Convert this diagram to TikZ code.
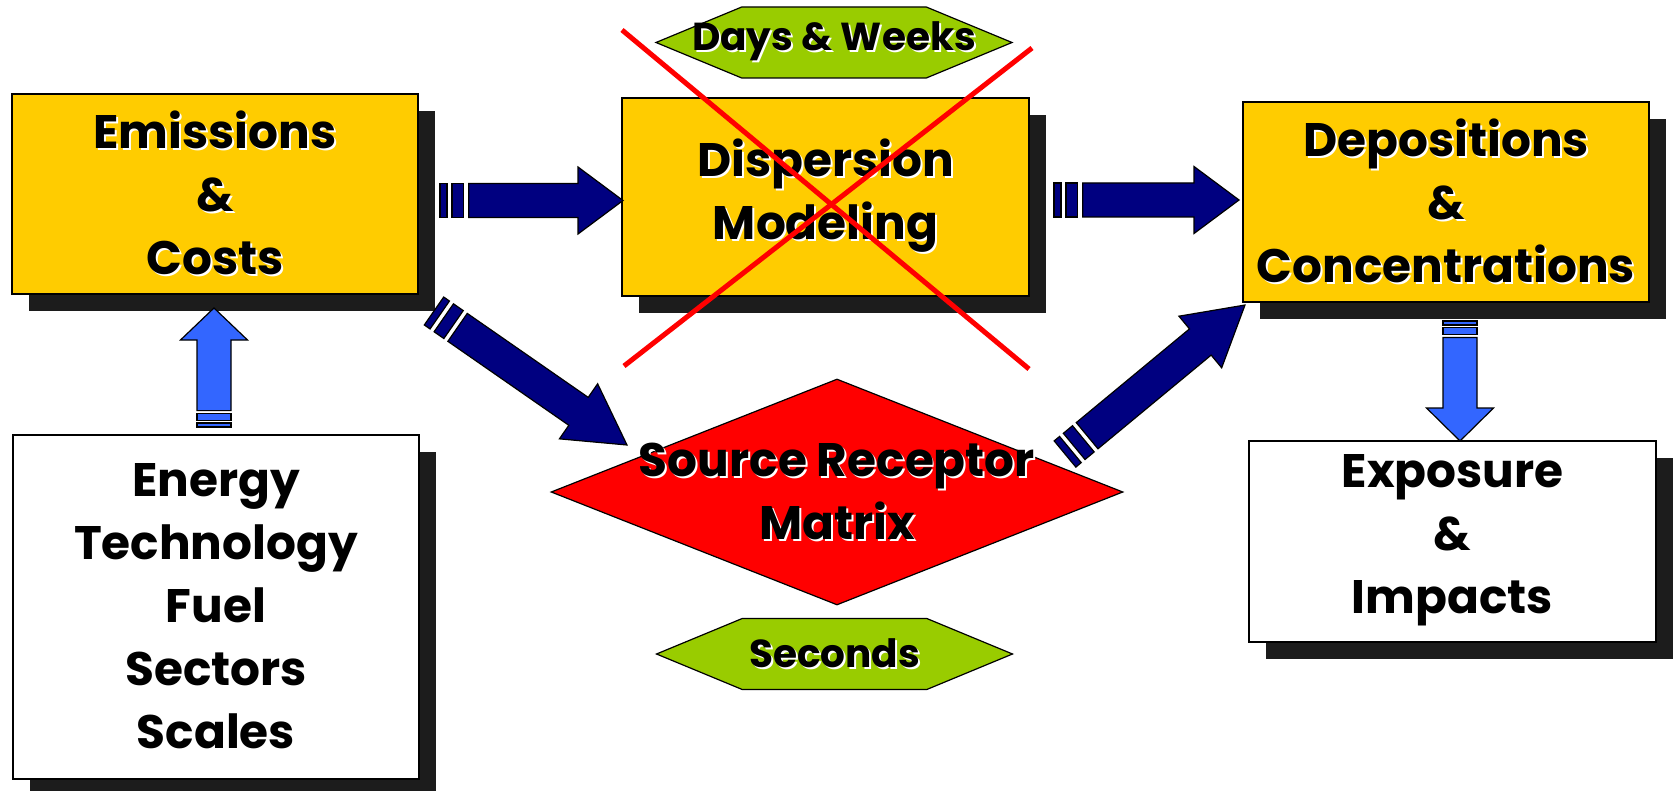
\documentclass[tikz,border=0pt]{standalone}
\usepackage{fontspec}
\setmainfont{Poppins}
\usetikzlibrary{calc,shadows,shapes.geometric,shapes.symbols}

\definecolor{boxyellow}{HTML}{FFCC00}
\definecolor{hexgreen}{HTML}{99CC00}
\definecolor{flownavy}{HTML}{000080}
\definecolor{flowblue}{HTML}{3366FF}
\definecolor{shadegray}{HTML}{1C1C1C}

\newcommand\bigfont{\fontsize{47}{63}\selectfont\bfseries}
\newcommand\hexfont{\fontsize{39}{46}\selectfont\bfseries}
% black text with a thin white shade
\newcommand\shtxt[1]{\makebox[0pt][l]{\kern2pt\raisebox{-2pt}{\color{white}#1}}#1}

% striped block arrow: tail, tip, colour, stripe unit, head length
\newcommand\fatarrow[5]{%
  \path let \p1=($(#2)-(#1)$) in
    \pgfextra{\pgfmathparse{atan2(\y1,\x1)}\xdef\faang{\pgfmathresult}%
      \pgfmathparse{veclen(\x1,\y1)}\xdef\falen{\pgfmathresult}};
  \begin{scope}[shift={(#1)}, rotate=\faang, draw=black, line width=1.2pt, fill=#3]
    \filldraw (0,-17) rectangle (#4,17);
    \filldraw ({1.7*#4},-17) rectangle ({3.4*#4},17);
    \filldraw ({4.1*#4},-17) -- ({\falen-#5},-17) -- ({\falen-#5},-33.5) -- (\falen,0)
      -- ({\falen-#5},33.5) -- ({\falen-#5},17) -- ({4.1*#4},17) -- cycle;
  \end{scope}}

\tikzset{
  box/.style={draw=black, line width=1.2pt, fill=#1, minimum width=406pt,
    minimum height=200pt, inner sep=0pt, align=center, font=\bigfont,
    drop shadow={shadow xshift=17pt, shadow yshift=-17pt, fill=shadegray, opacity=1}},
  hexa/.style={signal, signal to=east and west, signal pointer angle=45,
    draw=black, line width=1.2pt, fill=hexgreen, minimum width=356pt,
    minimum height=71pt, inner sep=0pt, label={[font=\hexfont]center:\shtxt{#1}}},
  crossline/.style={draw=red, line width=5pt}
}

\begin{document}
\begin{tikzpicture}[x=1pt, y=-1pt]
  \useasboundingbox (0,0) rectangle (1677,791);

  % boxes
  \node[box=boxyellow] (emis) at (215,194)
    {\shtxt{Emissions}\\\shtxt{\&}\\\shtxt{Costs}};
  \node[box=boxyellow, minimum width=407pt, minimum height=198pt] (disp) at (825.5,197)
    {\shtxt{Dispersion}\\\shtxt{Modeling}};
  \node[box=boxyellow] (depo) at (1446,202)
    {\shtxt{Depositions}\\\shtxt{\&}\\\shtxt{Concentrations}};
  \node[box=white, minimum height=344pt] (energy) at (216,607)
    {\shtxt{Energy}\\\shtxt{Technology}\\\shtxt{Fuel}\\\shtxt{Sectors}\\\shtxt{Scales}};
  \node[box=white, minimum width=407pt, minimum height=201pt] (expo) at (1452.5,541.5)
    {\shtxt{Exposure}\\\shtxt{\&}\\\shtxt{Impacts}};

  \node[diamond, draw=black, line width=1.2pt, fill=red, inner sep=0pt,
    minimum width=572pt, minimum height=226pt,
    label={[font=\bigfont, align=center]center:{\shtxt{Source Receptor}\\\shtxt{Matrix}}}]
    (srm) at (837,492) {};

  \node[hexa={Days \& Weeks}] (days) at (834,42.5) {};
  \node[hexa={Seconds}] (secs) at (834.5,654) {};

  % arrow ends
  \coordinate (emis-out) at (440,200.5);
  \coordinate (disp-in) at (623,200.5);
  \coordinate (disp-out) at (1054,200);
  \coordinate (depo-in) at (1239,200);
  \coordinate (emis-low) at (434,311);
  \coordinate (srm-in) at (627,445);
  \coordinate (srm-out) at (1065,454);
  \coordinate (depo-low) at (1245,305);
  \coordinate (energy-out) at (214,427);
  \coordinate (emis-in) at (214,308);
  \coordinate (depo-down) at (1460,321);
  \coordinate (expo-in) at (1460,441);

  \fatarrow{emis-out}{disp-in}{flownavy}{7}{45}
  \fatarrow{disp-out}{depo-in}{flownavy}{7}{45}
  \fatarrow{emis-low}{srm-in}{flownavy}{7}{59}
  \fatarrow{srm-out}{depo-low}{flownavy}{7}{58}
  \fatarrow{energy-out}{emis-in}{flowblue}{4}{32}
  \fatarrow{depo-down}{expo-in}{flowblue}{4}{33}

  % crossed out
  \draw[crossline] (622,30) -- (1029,369);
  \draw[crossline] (1032,48) -- (624,366);
\end{tikzpicture}
\end{document}
